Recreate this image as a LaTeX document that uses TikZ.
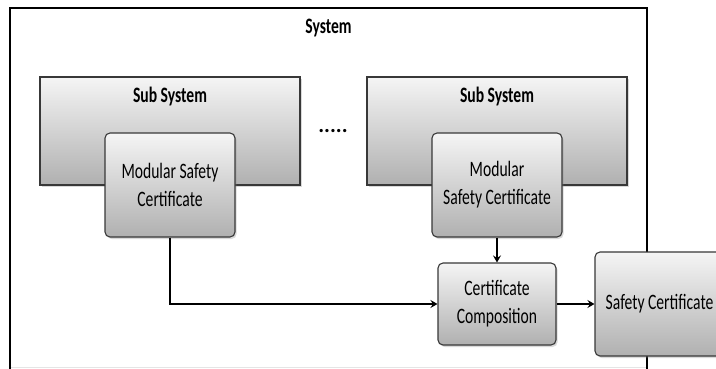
\documentclass[tikz,border=0pt]{standalone}
\usepackage{fontspec}
\setmainfont{Carlito}[FakeStretch=0.71]
\usetikzlibrary{shadows,arrows.meta}
\begin{document}
\begin{tikzpicture}[x=1pt,y=-1pt,
  shaded/.style={draw=black!78, line width=1.1pt, top color=black!4, bottom color=black!31,
    drop shadow={shadow xshift=1.6pt,shadow yshift=-2pt,opacity=0.3}, inner sep=0pt},
  subbox/.style={shaded, minimum width=260pt, minimum height=108pt},
  certbox/.style={shaded, rounded corners=5pt, align=center,
    font=\fontsize{22}{28}\selectfont},
  heading/.style={font=\bfseries\fontsize{22}{26}\selectfont},
  arr/.style={line width=1.7pt, -{Stealth[length=7pt,width=8pt,inset=2.5pt]}}
]
\useasboundingbox (0,0) rectangle (716,369);
\clip (0,0) rectangle (716,369);

% outer system frame
\node[draw=black, line width=1.8pt, minimum width=637pt, minimum height=380pt,
  inner sep=0pt, label={[heading, anchor=base, yshift=-26pt]north:System}]
  (system) at (328.5,198) {};
\draw[black!10, line width=0.8pt] (11,367) -- (646,367);

% sub systems
\node[subbox, label={[heading, anchor=base, yshift=-26pt]north:Sub System}]
  (subL) at (170,131) {};
\node[subbox, label={[heading, anchor=base, yshift=-26pt]north:Sub System}]
  (subR) at (497,131) {};
\node[font=\bfseries\fontsize{22}{26}\fontspec{Carlito}\selectfont, anchor=base]
  (dots) at (333,132) {.....};

% certificates
\node[certbox, minimum width=130pt, minimum height=104pt] (mscL) at (170,185)
  {Modular Safety\\Certificate};
\node[certbox, minimum width=130pt, minimum height=104pt] (mscR) at (497,185)
  {Modular\\Safety Certificate};
\node[certbox, minimum width=118pt, minimum height=82pt] (comp) at (497,304)
  {Certificate\\Composition};
\node[certbox, minimum width=129pt, minimum height=104pt] (safe) at (659.5,304)
  {Safety Certificate};

% flows
\draw[arr] (mscL.south) |- (comp.west);
\draw[arr] (mscR.south) -- (comp.north);
\draw[arr] (comp.east) -- (safe.west);
\end{tikzpicture}
\end{document}
